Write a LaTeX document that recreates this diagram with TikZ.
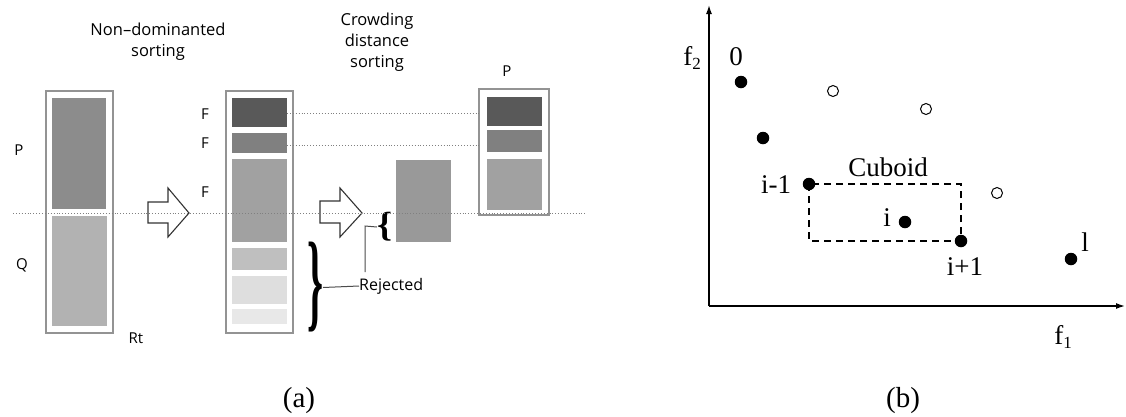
\documentclass[tikz,border=0pt]{standalone}
\usepackage{fontspec}
\usepackage{graphicx}
\setmainfont{Liberation Serif}
\newfontfamily\sansf{Open Sans}
\usetikzlibrary{arrows.meta}
\newcommand\mkblk[6]{\node[inner sep=0pt, outer sep=0pt, anchor=north west, minimum width={(#4-#2)*1pt}, minimum height={(#5-#3)*1pt}, fill=#6] (#1) at (#2,#3) {};}
\newcommand\mkbox[5]{\node[inner sep=0pt, outer sep=0pt, anchor=north west, minimum width={(#4-#2)*1pt}, minimum height={(#5-#3)*1pt}, draw=gray!85, line width=1.2pt, fill=white] (#1) at (#2,#3) {};}
\begin{document}
\begin{tikzpicture}[x=1pt,y=-1pt,
  lab/.style={font=\sansf\fontsize{15}{17}\selectfont, inner sep=0pt},
  ttl/.style={font=\sansf\fontsize{16.5}{21}\selectfont, align=center, inner sep=0pt},
  ser/.style={font=\fontsize{27}{29}\selectfont, inner sep=0pt},
  captext/.style={font=\fontsize{29}{31}\selectfont, inner sep=0pt},
  blockarrow/.style={draw=black!80, line width=1.1pt, fill=white, line join=miter},
  dotl/.style={draw=gray, dotted, line width=0.9pt},
  fdot/.style={circle, fill=black, inner sep=0pt, minimum size=12.5pt},
  odot/.style={circle, draw=black, line width=1pt, fill=white, inner sep=0pt, minimum size=11pt},
  conn/.style={draw=black!70, line width=1pt},
  brc/.style={inner sep=0pt, outer sep=0pt, font=\bfseries}
]
\useasboundingbox (0,0) rectangle (1126,416);
\fill[white] (0,0) rectangle (1126,416);

% ---------- panel (a) ----------
\node[ttl] (t1) at (158,42) {Non–dominanted\\sorting};
\node[ttl] (t2) at (377,42) {Crowding\\distance\\sorting};

% left box
\mkbox{rt}{46}{91}{113}{333}
\mkblk{pb}{52}{98}{106}{209}{black!45}
\mkblk{qb}{52}{216}{107}{326}{black!30}
\node[lab] (lp) at (19,150) {P};
\node[lab] (lq) at (22,265) {Q};
\node[lab] (lrt) at (136,338) {Rt};

% middle box
\mkbox{mid}{226}{91}{293}{333}
\mkblk{f1}{232}{98}{287}{127}{black!65}
\mkblk{f2}{232}{133}{287}{153}{black!50}
\mkblk{f3}{232}{159}{287}{242}{black!37}
\mkblk{f4}{232}{248}{287}{270}{black!25}
\mkblk{f5}{232}{276}{287}{304}{black!13}
\mkblk{f6}{232}{309}{287}{324}{black!9}
\node[lab] (lf1) at (205,114) {F};
\node[lab] (lf2) at (205,143) {F};
\node[lab] (lf3) at (205,192) {F};

% right box
\node[lab] (lp2) at (507,71) {P};
\mkbox{rb}{479}{89}{549}{215}
\mkblk{r1}{487}{97}{542}{126}{black!65}
\mkblk{r2}{487}{130}{542}{152}{black!50}
\mkblk{r3}{487}{159}{542}{210}{black!37}

% crowding block
\mkblk{cb}{396}{160}{451}{242}{black!40}

% dotted links
\draw[dotl] (f1.east |- 0,113) -- (rb.west |- 0,113);
\draw[dotl] (f2.east |- 0,145) -- (rb.west |- 0,145);

% block arrows
\draw[blockarrow] (148,202) -- (168,202) -- (168,188) -- (189,213) -- (168,237) -- (168,223) -- (148,223) -- cycle;
\draw[blockarrow] (320,201) -- (340,201) -- (340,188) -- (362,213) -- (340,237) -- (340,223) -- (320,223) -- cycle;

% braces
\node[brc] (br1) at (384.5,227) {\resizebox*{15pt}{29pt}{\{}};
\node[brc] (br2) at (315,287.5) {\resizebox*{16pt}{90pt}{\}}};

\node[font=\sansf\fontsize{16}{18}\selectfont, inner sep=0pt, anchor=west] (rej) at (359,286) {Rejected};
\coordinate (corner) at (365,226);
\coordinate (lend) at (365,272);
\draw[conn] (br2.east) -- (rej.west);
\draw[conn] (br1.west) -- (corner) -- (lend);

% horizontal dotted separator
\draw[dotl] (13,213) -- (585,213);

\node[captext] (ca) at (299,401) {(a)};

% ---------- panel (b) ----------
\coordinate (o) at (709,306);
\coordinate (ytop) at (709,5);
\coordinate (xend) at (1125,306);
\draw[line width=1.4pt, -{Latex[length=9pt,width=6pt]}] (o) -- (ytop);
\draw[line width=1.4pt, -{Latex[length=9pt,width=6pt]}] (o) -- (xend);
\node[ser] (f2l) at (692,58) {f\raisebox{-0.35ex}{\fontsize{17}{17}\selectfont 2}};
\node[ser] (f1l) at (1063,337) {f\raisebox{-0.35ex}{\fontsize{17}{17}\selectfont 1}};

\node[fdot] (p0) at (741,82) {};
\node[fdot] (p1) at (763,138) {};
\node[fdot] (pim) at (809,184) {};
\node[fdot] (pi) at (905,222) {};
\node[fdot] (pip) at (961,241) {};
\node[fdot] (pl) at (1071,259) {};
\node[odot] (q1) at (833,91) {};
\node[odot] (q2) at (926,109) {};
\node[odot] (q3) at (997,193) {};

\draw[line width=1.3pt, dash pattern=on 7pt off 5pt] (pim.center) rectangle (pip.center);

\node[ser] (l0) at (736,57) {0};
\node[ser] (lc) at (888,167) {Cuboid};
\node[ser] (lim) at (776,185) {i-1};
\node[ser] (li) at (887,218) {i};
\node[ser] (lip) at (965,267) {i+1};
\node[ser] (ll) at (1085,242) {l};

\node[captext] (cb2) at (903,401) {(b)};
\end{tikzpicture}
\end{document}
